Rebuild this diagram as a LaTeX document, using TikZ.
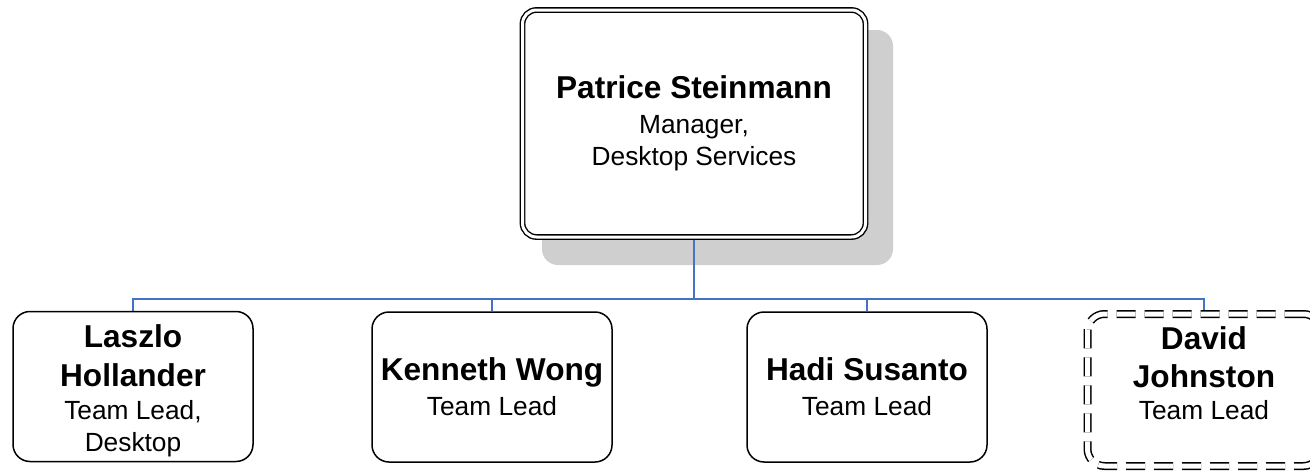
\documentclass[tikz,border=0pt]{standalone}
\usepackage{fontspec}
\setmainfont{Liberation Sans}
\usetikzlibrary{backgrounds}
\definecolor{linkblue}{HTML}{4472C4}
\newcommand{\namefont}{\fontsize{31.6}{38}\selectfont\bfseries}
\newcommand{\rolefont}{\fontsize{26.3}{32}\selectfont}
\tikzset{
	leadbox/.style={draw=black, fill=white, line width=1.5pt, rounded corners=17pt, minimum width=240pt, minimum height=150pt, align=center, font=\rolefont, inner sep=0pt},
	bossbox/.style={leadbox, line width=1.4pt, double=white, double distance=3pt, rounded corners=14pt, minimum width=343pt, minimum height=227pt},
	vacantbox/.style={leadbox, double=white, double distance=5pt, dash pattern=on 19pt off 9pt, minimum width=233pt, minimum height=152pt},
	link/.style={draw=linkblue, line width=1.5pt},
	shade/.style={fill=black!19, rounded corners=16pt}
}

\begin{document}
\begin{tikzpicture}[x=1pt,y=-1pt]
			%%%%% START %%%%%
			
			\useasboundingbox (0,0) rectangle (1310,471);
			
			\node[bossbox] (boss) at (694,123.5) {{\namefont Patrice Steinmann}\\[3pt] Manager,\\ Desktop Services};
			
			\node[leadbox, text height=136pt] (laszlo) at (133,386.5) {{\namefont Laszlo}\\[7pt] {\namefont Hollander}\\[1pt] Team Lead,\\ Desktop};
			\node[leadbox] (kenneth) at (492,387) {{\namefont Kenneth Wong}\\[3pt] Team Lead};
			\node[leadbox] (hadi) at (867,387) {{\namefont Hadi Susanto}\\[3pt] Team Lead};
			\node[vacantbox, text depth=33pt] (david) at (1204,390) {{\namefont David}\\[6pt] {\namefont Johnston}\\ Team Lead};
			
			\coordinate (bus) at (694,299);
			
			\begin{scope}[on background layer]
				\fill[shade] (542,30) rectangle (893,265);
				\draw[link] (boss) -- (bus);
				\draw[link] (bus) -| (laszlo);
				\draw[link] (bus) -| (kenneth);
				\draw[link] (bus) -| (hadi);
				\draw[link] (bus) -| (david);
			\end{scope}
			
			%%%%% END %%%%%
\end{tikzpicture}
\end{document}
